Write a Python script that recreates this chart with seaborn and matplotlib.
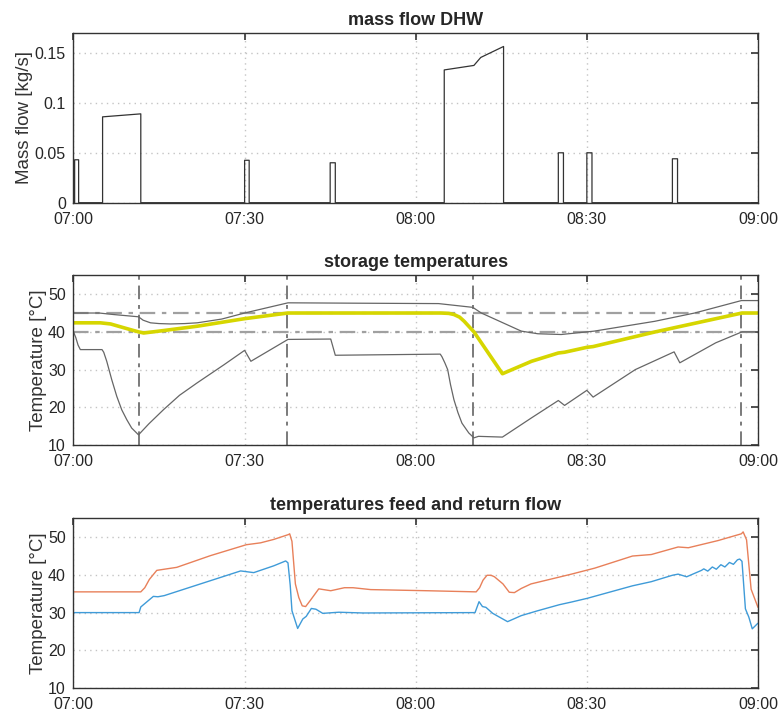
import numpy as np
import pandas as pd
import matplotlib
matplotlib.use("Agg")
import matplotlib.pyplot as plt
import matplotlib.dates as mdates
import seaborn as sns

# time axis values are minutes after 07:00
flow_t = [0, 0.2, 0.2, 0.9, 0.9, 5.1, 5.1, 11.8, 11.8, 30.0, 30.0, 30.8, 30.8,
          45.0, 45.0, 45.9, 45.9, 65.0, 65.0, 70.2, 71.4, 75.4, 75.4,
          85.0, 85.0, 85.9, 85.9, 90.0, 90.0, 90.9, 90.9, 105.0, 105.0, 105.9, 105.9, 120]
flow_v = [0, 0, 0.043, 0.043, 0, 0, 0.086, 0.089, 0, 0, 0.0425, 0.0425, 0,
          0, 0.040, 0.040, 0, 0, 0.133, 0.1375, 0.1455, 0.1565, 0,
          0, 0.050, 0.050, 0, 0, 0.050, 0.050, 0, 0, 0.044, 0.044, 0, 0]

top_t = [0, 4.5, 7.0, 11.4, 12.2, 13.5, 15, 17, 19.5, 21.7, 26, 30, 37.6, 38, 50, 64,
         70, 71.5, 75, 78.5, 81.4, 85.5, 91.3, 101.9, 108.9, 117.1, 120]
top_v = [45.0, 45.0, 44.6, 44.0, 43.1, 42.4, 42.2, 42.1, 42.2, 42.4, 43.4, 45.0, 47.7, 47.7,
         47.6, 47.5, 46.5, 45.0, 42.6, 40.2, 39.5, 39.3, 40.2, 42.8, 45.0, 48.3, 48.3]

mean_t = [0, 4.7, 6.5, 8.8, 10.2, 11.4, 12.3, 15.8, 21.7, 30, 37.6, 64.4, 65.8, 66.7,
          67.7, 68.5, 70.2, 75.2, 80.3, 85.0, 86.1, 90.0, 91.1, 102, 117.2, 120]
mean_v = [42.4, 42.4, 42.1, 41.1, 40.5, 40.0, 39.7, 40.35, 41.5, 43.5, 45.0, 45.0, 44.9,
          44.6, 43.9, 42.8, 40.0, 28.9, 32.2, 34.4, 34.6, 35.9, 36.1, 40.0, 45.0, 45.0]

low_t = [0, 0.4, 0.8, 1.2, 5.0, 5.3, 5.83, 6.71, 7.59, 8.47, 9.35, 10.2, 11.4, 13.2,
         15.8, 18.6, 21.7, 26.4, 30.0, 31.1, 37.6, 45.1, 45.9, 64.3, 64.6, 65.1, 65.6,
         66.1, 66.7, 67.4, 68.1, 69.3, 70.2, 71.0, 75.2, 80.3, 85.0, 86.1, 90.0,
         91.1, 98.5, 105.3, 106.3, 112.6, 117.2, 120]
low_v = [40, 38.5, 36.5, 35.3, 35.3, 34.6, 32.2, 27.3, 22.9, 19.3, 16.7, 14.5, 12.7, 15.6,
         19.4, 23.2, 26.5, 31.3, 35.1, 32.2, 38.0, 38.1, 33.8, 34.1, 33.4, 31.8, 30.0,
         26.0, 22.0, 18.6, 15.8, 13.2, 11.9, 12.3, 12.1, 17.2, 21.8, 20.5, 24.5,
         22.7, 30, 34.7, 31.8, 37.1, 40, 40]

switch_t = [11.4, 37.5, 70.1, 117.1]
limits_T = [40, 45]

feed_t = [0, 11.8, 12.5, 13.3, 14.6, 15.9, 18.1, 24, 30.3, 32.8, 35.1, 37.7, 37.9, 38.3,
          38.9, 39.5, 40.1, 40.7, 41.6, 43.0, 45.1, 47.5, 49.0, 52.1, 62.0, 70.6, 71.2,
          71.8, 72.5, 73.2, 73.8, 75.3, 76.4, 77.3, 78.5, 80.2, 87.3, 91.4, 98, 101.3,
          106.0, 107.8, 113.0, 117.1, 117.4, 118.0, 118.8, 120]
feed_v = [35.5, 35.5, 36.6, 38.8, 41.2, 41.5, 42.0, 45.1, 48.0, 48.5, 49.4, 50.7, 50.9, 48.9,
          37.6, 34.0, 31.8, 31.6, 33.4, 36.3, 35.8, 36.6, 36.6, 36.1, 35.8, 35.5, 36.6,
          38.6, 39.9, 39.9, 39.5, 37.6, 35.4, 35.3, 36.4, 37.6, 40.2, 41.8, 45.0, 45.4,
          47.4, 47.2, 49.1, 50.9, 51.4, 49.3, 36.2, 31.4]

ret_t = [0, 11.5, 11.8, 14.0, 14.8, 15.9, 29.3, 31.6, 35.1, 37.2, 37.6, 38.0, 38.3,
         39.3, 40.2, 40.8, 41.7, 42.5, 43.7, 46.5, 50.8, 70.4, 71.1, 71.7, 72.3, 73.5,
         76.1, 78.5, 81.4, 85.2, 87.3, 90.1, 98, 101.3, 105, 106.0, 107.5, 110.1, 110.5,
         111.2, 112.0, 112.7, 113.5, 114.2, 115.0, 115.7, 116.4, 116.8, 117.2, 117.8,
         118.4, 119.0, 120]
ret_v = [30.0, 30.0, 31.5, 34.3, 34.2, 34.5, 41.05, 40.6, 42.4, 43.7, 43.2, 37.2, 30.5,
         25.8, 28.3, 29.0, 31.1, 30.9, 29.8, 30.1, 29.9, 30.0, 32.9, 31.6, 31.4, 29.8,
         27.6, 29.2, 30.5, 32.1, 32.8, 33.8, 37.1, 38.2, 39.9, 40.2, 39.5, 41.2, 41.6,
         41.0, 42.1, 41.5, 42.7, 42.1, 43.3, 42.8, 44.0, 44.2, 43.6, 31.0,
         28.8, 25.7, 27.2]

START = pd.Timestamp("2020-01-01 07:00")


def to_time(minutes):
    return START + pd.to_timedelta(np.asarray(minutes, dtype=float), unit="m")


sns.set_theme(style="white")
plt.rcParams["font.family"] = ["Liberation Sans", "DejaVu Sans"]

fig = plt.figure(figsize=(7.81, 7.11), dpi=100)
left, width, height = 0.0941, 0.8764, 0.2387
ax_flow = fig.add_axes([left, 0.7149, width, height])
ax_store = fig.add_axes([left, 0.3741, width, height])
ax_temp = fig.add_axes([left, 0.0323, width, height])

# mass flow
sns.lineplot(x=to_time(flow_t), y=flow_v, ax=ax_flow, color="#333333",
             linewidth=0.9, estimator=None, sort=False)

# storage temperatures
for v in limits_T:
    ax_store.axhline(v, color="#a0a0a0", linewidth=1.6, linestyle=(0, (7, 3, 2, 3)), zorder=1)
for t in switch_t:
    ax_store.axvline(to_time([t])[0], color="#7a7a7a", linewidth=1.4,
                     linestyle=(0, (7, 3, 2, 3)), zorder=1)
sns.lineplot(x=to_time(top_t), y=top_v, ax=ax_store, color="#666666",
             linewidth=0.9, estimator=None, sort=False)
sns.lineplot(x=to_time(low_t), y=low_v, ax=ax_store, color="#666666",
             linewidth=0.9, estimator=None, sort=False)
sns.lineplot(x=to_time(mean_t), y=mean_v, ax=ax_store, color="#d6d600",
             linewidth=2.6, estimator=None, sort=False)

# feed and return flow
sns.lineplot(x=to_time(feed_t), y=feed_v, ax=ax_temp, color="#e8805a",
             linewidth=1.0, estimator=None, sort=False)
sns.lineplot(x=to_time(ret_t), y=ret_v, ax=ax_temp, color="#3f9bd8",
             linewidth=1.0, estimator=None, sort=False)

titles = ["mass flow DHW", "storage temperatures", "temperatures feed and return flow"]
ylabels = ["Mass flow [kg/s]", "Temperature [°C]", "Temperature [°C]"]
for ax, title, ylab in zip([ax_flow, ax_store, ax_temp], titles, ylabels):
    ax.set_xlim(to_time([0])[0], to_time([120])[0])
    ax.xaxis.set_major_locator(mdates.MinuteLocator(byminute=[0, 30]))
    ax.xaxis.set_major_formatter(mdates.DateFormatter("%H:%M"))
    ax.set_title(title, fontsize=13, fontweight="bold", pad=6)
    ax.set_ylabel(ylab, fontsize=13.5, color="#333333", labelpad=1)
    ax.set_xlabel("")
    ax.grid(True, linestyle=(0, (1, 3)), color="#c4c4c4", linewidth=1.0)
    ax.tick_params(direction="in", top=True, right=True, length=5, width=1.2,
                   color="#333333", labelsize=11.5, labelcolor="#262626")
    ax.tick_params(axis="x", pad=6.5)
    ax.tick_params(axis="y", pad=5.5)
    for sp in ax.spines.values():
        sp.set_color("#333333")
        sp.set_linewidth(1.0)

ax_flow.set_ylim(0, 0.17)
ax_flow.set_yticks([0, 0.05, 0.1, 0.15])
ax_flow.set_yticklabels(["0", "0.05", "0.1", "0.15"])
for ax in [ax_store, ax_temp]:
    ax.set_ylim(10, 55)
    ax.set_yticks([10, 20, 30, 40, 50])

fig.savefig("out.png", dpi=100)
